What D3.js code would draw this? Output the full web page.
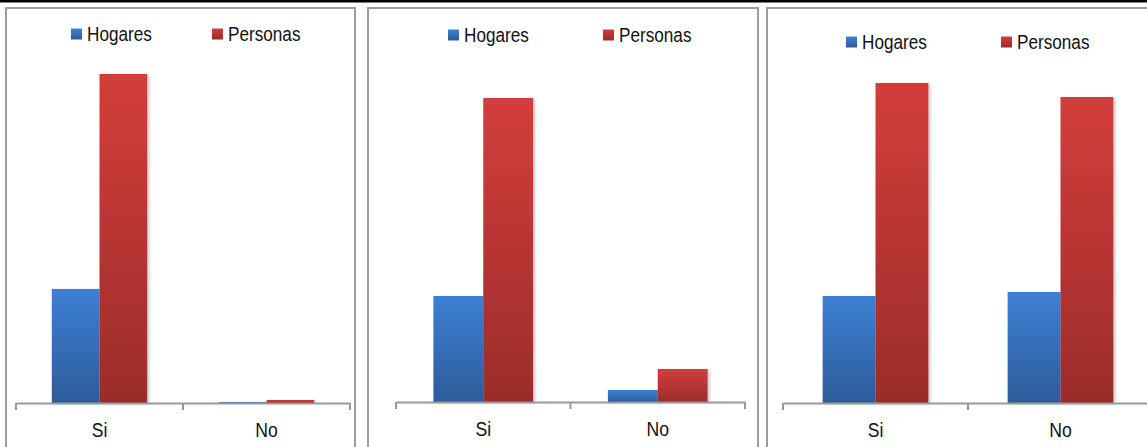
<!DOCTYPE html>
<html lang="es">
<head>
  <meta charset="utf-8">
  <title>Hogares y personas</title>
  <script src="https://d3js.org/d3.v7.min.js"></script>
  <style>
    body { margin: 0; background: #fff; }
    text { font-family: "Liberation Sans", Arial, sans-serif; fill: #111; }
  </style>
</head>
<body>
<div id="chart"></div>
<script>
"use strict"

// datos (alturas relativas)
var categorias = ["Si", "No"];
var series = ["Hogares", "Personas"];
var hogares1 = [114, 1];
var personas1 = [329, 3];
var hogares2 = [106, 12];
var personas2 = [304, 33];
var hogares3 = [107, 111];
var personas3 = [320, 306];

var datos = [[hogares1, personas1], [hogares2, personas2], [hogares3, personas3]];

// ubicacion de cada panel
var paneles = [
  {borde: [6, 355], eje: [16, 350], base: 403, leyY: 34, ley: [71, 212]},
  {borde: [368, 758], eje: [396, 745], base: 402, leyY: 35, ley: [448, 603]},
  {borde: [767, 1165], eje: [783, 1153], base: 403, leyY: 42, ley: [846, 1001]}
];

var ancho = 1147, alto = 447;
var svg = d3.select("#chart").append("svg")
  .attr("width", ancho).attr("height", alto);

var defs = svg.append("defs");
function gradiente(id, arriba, abajo) {
  var g = defs.append("linearGradient").attr("id", id)
    .attr("x1", 0).attr("y1", 0).attr("x2", 0).attr("y2", 1);
  g.append("stop").attr("offset", "0%").attr("stop-color", arriba);
  g.append("stop").attr("offset", "100%").attr("stop-color", abajo);
}
gradiente("gAzul", "#3d80d4", "#2d5c9a");
gradiente("gRojo", "#d33e3b", "#9b2c2b");
var rellenos = ["url(#gAzul)", "url(#gRojo)"];

defs.append("filter").attr("id", "sombra")
  .attr("x", "-10%").attr("y", "-10%").attr("width", "130%").attr("height", "130%")
  .append("feDropShadow")
  .attr("dx", 2).attr("dy", 1).attr("stdDeviation", 1.5)
  .attr("flood-color", "#000").attr("flood-opacity", 0.22);

// linea negra superior
svg.append("rect").attr("x", 0).attr("y", 0).attr("width", ancho).attr("height", 2.5).attr("fill", "#000");

paneles.forEach(function(p, i) {
  var g = svg.append("g");

  g.append("rect")
    .attr("x", p.borde[0]).attr("y", 8)
    .attr("width", p.borde[1] - p.borde[0]).attr("height", alto)
    .attr("fill", "none").attr("stroke", "#9c9c9c").attr("stroke-width", 2);

  var x = d3.scaleBand().domain(categorias).range(p.eje).padding(0);
  var xs = d3.scaleBand().domain(series).range([0, x.bandwidth()])
    .paddingInner(0).paddingOuter(0.75);
  var y = d3.scaleLinear().domain([0, 340]).range([p.base, p.base - 340]);

  series.forEach(function(s, k) {
    g.selectAll(".b" + k)
      .data(datos[i][k])
      .enter().append("rect")
        .attr("x", function(d, j) { return x(categorias[j]) + xs(s); })
        .attr("y", function(d) { return y(d); })
        .attr("width", xs.bandwidth())
        .attr("height", function(d) { return y(0) - y(d); })
        .attr("fill", rellenos[k])
        .attr("filter", "url(#sombra)");
  });

  var eje = g.append("g")
    .attr("transform", "translate(0," + p.base + ")")
    .call(d3.axisBottom(x).tickSize(0).tickFormat(""));
  eje.select(".domain").attr("stroke", "#999").attr("stroke-width", 2);

  // marcas entre categorias
  var marcas = [p.eje[0], x("No"), p.eje[1]];
  g.selectAll(".marca").data(marcas).enter().append("line")
    .attr("x1", function(d) { return d; }).attr("x2", function(d) { return d; })
    .attr("y1", p.base).attr("y2", p.base + 7)
    .attr("stroke", "#999").attr("stroke-width", 2);

  g.selectAll(".cat").data(categorias).enter().append("text")
    .attr("transform", function(d) {
      return "translate(" + (x(d) + x.bandwidth() / 2) + "," + (p.base + 34) + ") scale(0.88,1)";
    })
    .attr("text-anchor", "middle")
    .style("font-size", "20px")
    .text(function(d) { return d; });

  // leyenda
  series.forEach(function(s, k) {
    g.append("rect")
      .attr("x", p.ley[k]).attr("y", p.leyY - 5.5)
      .attr("width", 11).attr("height", 11)
      .attr("fill", rellenos[k]);
    g.append("text")
      .attr("transform", "translate(" + (p.ley[k] + 16) + "," + (p.leyY + 7) + ") scale(0.88,1)")
      .style("font-size", "19.5px")
      .text(s);
  });
});
</script>
</body>
</html>
